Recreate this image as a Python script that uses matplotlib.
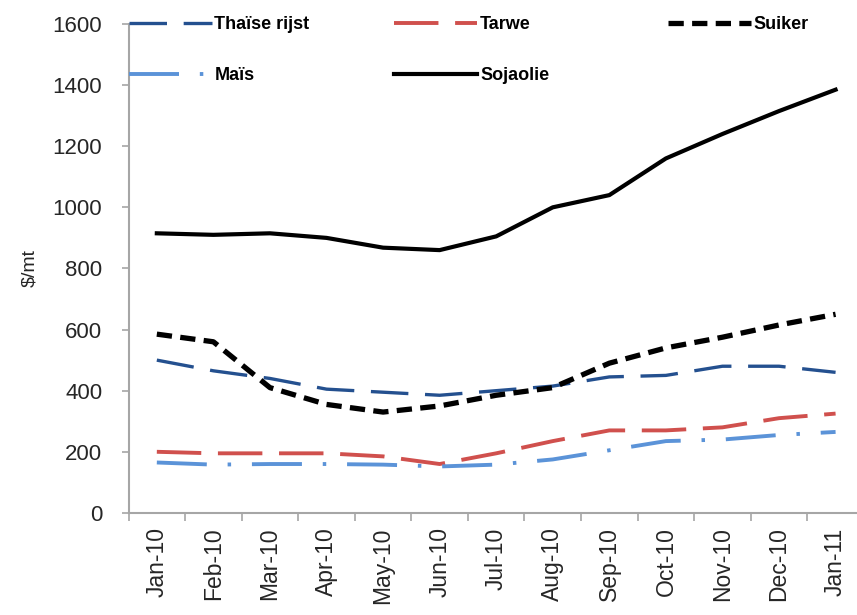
import matplotlib
matplotlib.use("Agg")
from matplotlib import pyplot as plt

plt.rcParams['font.family'] = ['Liberation Sans', 'DejaVu Sans']
plt.rcParams['lines.scale_dashes'] = False

months = ['Jan-10', 'Feb-10', 'Mar-10', 'Apr-10', 'May-10', 'Jun-10', 'Jul-10',
		  'Aug-10', 'Sep-10', 'Oct-10', 'Nov-10', 'Dec-10', 'Jan-11']

thai_rijst = [500, 465, 440, 405, 395, 385, 400, 415, 445, 450, 480, 480, 460]
tarwe = [200, 195, 195, 195, 185, 160, 195, 235, 270, 270, 280, 310, 325]
suiker = [585, 560, 410, 355, 330, 350, 385, 410, 490, 540, 575, 615, 650]
mais = [165, 158, 160, 160, 158, 152, 158, 175, 205, 235, 240, 255, 265]
sojaolie = [915, 910, 915, 900, 868, 860, 905, 1000, 1040, 1160, 1240, 1315, 1385]

axis_grey = '#a6a6a6'

fig = plt.figure(figsize=(8.57, 6.15), dpi=100)
# the original is cropped on the right, so the axes run past the figure edge
ax = fig.add_axes([0.150, 0.166, 0.858, 0.795])

x = range(len(months))
l_thai, = ax.plot(x, thai_rijst, color='#24508f', lw=2.4, dashes=(27, 12), label='Thaïse rijst')
l_tarwe, = ax.plot(x, tarwe, color='#d0504d', lw=2.8, dashes=(32, 12), label='Tarwe')
l_suiker, = ax.plot(x, suiker, color='black', lw=3.8, dashes=(11, 6), label='Suiker')
l_mais, = ax.plot(x, mais, color='#5b93d8', lw=2.8, dashes=(36, 15, 2.5, 15), label='Maïs')
l_soja, = ax.plot(x, sojaolie, color='black', lw=3.0, label='Sojaolie')

ax.set_xlim(-0.5, len(months) - 0.5)
ax.set_ylim(0, 1600)
ax.set_yticks(range(0, 1601, 200))
ax.set_xticks(x)
ax.set_xticklabels(months, rotation=90, fontsize=16.5)
ax.set_xticks([i - 0.5 for i in range(len(months) + 1)], minor=True)
ax.tick_params(axis='x', which='major', length=0, pad=10.5)
ax.tick_params(axis='x', which='minor', length=6, color=axis_grey, width=1.2)
ax.tick_params(axis='y', length=5, color=axis_grey, width=1.2, labelsize=16, pad=14,
			   labelcolor='#262626')
ax.tick_params(axis='x', labelcolor='#262626')
for side in ['top', 'right']:
	ax.spines[side].set_visible(False)
for side in ['left', 'bottom']:
	ax.spines[side].set_color(axis_grey)
	ax.spines[side].set_linewidth(1.5)
ax.set_ylabel('\\$/mt', fontsize=14, labelpad=10, color='#262626')

# legend laid out as three columns, like the original
leg_kw = dict(frameon=False, handlelength=4.6, handletextpad=0.15, labelspacing=1.9,
			  prop={'weight': 'bold', 'size': 13}, borderpad=0, borderaxespad=0)
fig.legend([l_thai, l_mais], ['Thaïse rijst', 'Maïs'], loc='upper left',
		   bbox_to_anchor=(0.150, 0.974), **leg_kw)
fig.legend([l_tarwe, l_soja], ['Tarwe', 'Sojaolie'], loc='upper left',
		   bbox_to_anchor=(0.460, 0.974), **leg_kw)
fig.legend([l_suiker], ['Suiker'], loc='upper left',
		   bbox_to_anchor=(0.779, 0.974), **leg_kw)

fig.savefig('out.png', dpi=100)
